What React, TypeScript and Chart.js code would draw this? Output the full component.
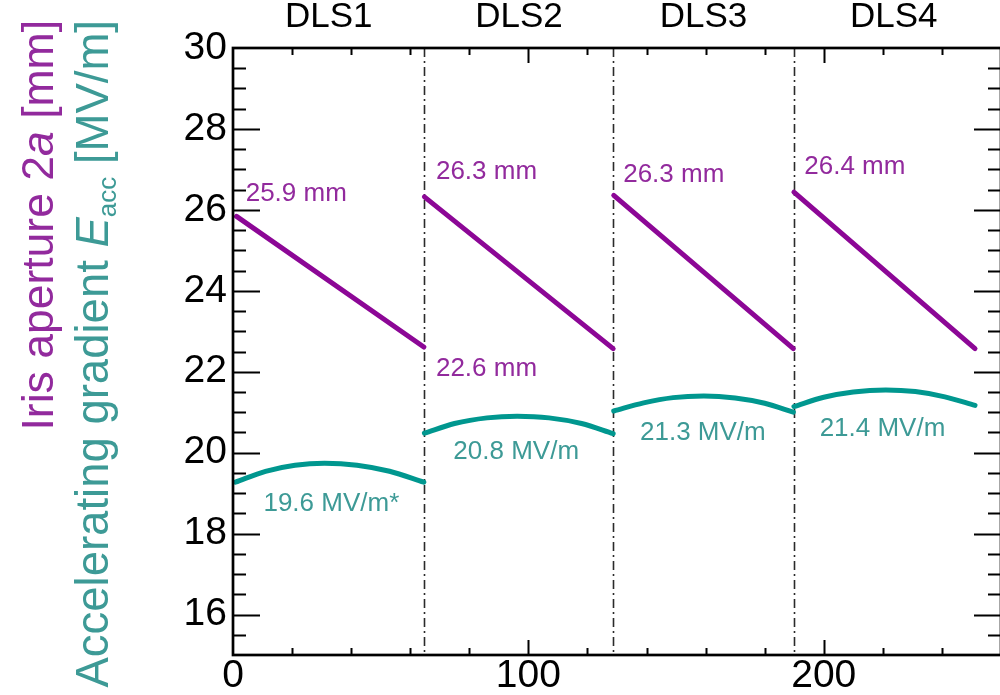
import React, { useEffect, useRef } from 'react';
import { Chart, registerables } from 'chart.js';

Chart.register(...registerables);

// ---------- data ----------
const sectionNames = ['DLS1', 'DLS2', 'DLS3', 'DLS4'];
const sectionLabelX = [32.4, 96.8, 159.3, 223.7];
const sectionDividers = [64.7, 128.8, 189.8];

// Iris aperture 2a [mm] : straight taper in every section (x, value)
const irisDLS1 = [[1.2, 25.84], [64.6, 22.61]];
const irisDLS2 = [[64.8, 26.32], [128.7, 22.57]];
const irisDLS3 = [[128.9, 26.36], [189.7, 22.57]];
const irisDLS4 = [[189.9, 26.44], [251.2, 22.57]];

// Accelerating gradient Eacc [MV/m] (x, value)
const gradDLS1 = [[0.8, 19.27], [11, 19.54], [21, 19.69], [31, 19.74], [42, 19.69], [53, 19.54], [64.6, 19.27]];
const gradDLS2 = [[64.8, 20.48], [75, 20.72], [86, 20.86], [96.2, 20.9], [107, 20.86], [118, 20.72], [128.7, 20.47]];
const gradDLS3 = [[128.9, 21.03], [139, 21.23], [149, 21.36], [159.4, 21.4], [170, 21.35], [180, 21.22], [189.7, 21.0]];
const gradDLS4 = [[189.9, 21.14], [200, 21.37], [210, 21.5], [221, 21.55], [231, 21.51], [241, 21.38], [251.2, 21.17]];

const irisLabels = ['25.9 mm', '26.3 mm', '22.6 mm', '26.3 mm', '26.4 mm'];
const irisLabelX = [4.3, 68.7, 68.7, 132.1, 193.4];
const irisLabelY = [26.23, 26.76, 21.9, 26.68, 26.88];

const gradLabels = ['19.6 MV/m*', '20.8 MV/m', '21.3 MV/m', '21.4 MV/m'];
const gradLabelX = [10.3, 74.6, 137.8, 198.6];
const gradLabelY = [18.57, 19.84, 20.31, 20.4];

const xTickValues = [0, 100, 200];
const yTickValues = [16, 18, 20, 22, 24, 26, 28, 30];

// ---------- styles ----------
const FONT = '"Liberation Sans", Arial, Helvetica, sans-serif';
const PURPLE = '#8c0796';
const PURPLE_TEXT = '#922a9d';
const TEAL = '#00978f';
const TEAL_TEXT = '#3d9a96';

const toXY = (arr: number[][]) => arr.map(([x, y]) => ({ x, y }));

type Seg = { t: string; size: number; italic?: boolean; shift?: number };

function drawVerticalRich(ctx: CanvasRenderingContext2D, segs: Seg[], baseX: number, endY: number, color: string) {
  ctx.save();
  let total = 0;
  const widths: number[] = [];
  for (const s of segs) {
    ctx.font = `${s.italic ? 'italic ' : ''}${s.size}px ${FONT}`;
    const w = ctx.measureText(s.t).width;
    widths.push(w);
    total += w;
  }
  ctx.translate(baseX, endY + total);
  ctx.rotate(-Math.PI / 2);
  ctx.fillStyle = color;
  ctx.textBaseline = 'alphabetic';
  ctx.textAlign = 'left';
  let cx = 0;
  segs.forEach((s, i) => {
    ctx.font = `${s.italic ? 'italic ' : ''}${s.size}px ${FONT}`;
    ctx.fillText(s.t, cx, s.shift || 0);
    cx += widths[i];
  });
  ctx.restore();
}

const decorPlugin = {
  id: 'decor',
  beforeDatasetsDraw(chart: any) {
    const { ctx, chartArea: a, scales } = chart;
    const x = scales.x;
    ctx.save();
    ctx.strokeStyle = '#2a2a2a';
    ctx.lineWidth = 1.6;
    ctx.setLineDash([9, 4, 2, 4]);
    for (const b of sectionDividers) {
      const px = Math.round(x.getPixelForValue(b)) + 0.5;
      ctx.beginPath();
      ctx.moveTo(px, a.top);
      ctx.lineTo(px, a.bottom);
      ctx.stroke();
    }
    ctx.restore();
  },
  afterDatasetsDraw(chart: any) {
    const { ctx, chartArea: a, scales } = chart;
    const x = scales.x;
    const y = scales.y;
    ctx.save();
    // inward ticks
    ctx.strokeStyle = '#000';
    ctx.lineWidth = 2;
    ctx.beginPath();
    for (let i = 31; i < 60; i++) {
      const v = i / 2;
      const py = Math.round(y.getPixelForValue(v)) + 0.5;
      const len = i % 4 === 0 ? 27 : 13;
      ctx.moveTo(a.left, py);
      ctx.lineTo(a.left + len, py);
      ctx.moveTo(a.right, py);
      ctx.lineTo(a.right - len, py);
    }
    for (let v = 20; v < 260; v += 20) {
      const px = Math.round(x.getPixelForValue(v)) + 0.5;
      const len = v % 100 === 0 ? 15 : 7;
      ctx.moveTo(px, a.bottom);
      ctx.lineTo(px, a.bottom - len);
      ctx.moveTo(px, a.top);
      ctx.lineTo(px, a.top + len);
    }
    ctx.stroke();
    // frame
    ctx.lineWidth = 2.7;
    ctx.strokeRect(a.left, a.top, a.right - a.left, a.bottom - a.top);

    // section names on top
    ctx.fillStyle = '#000';
    ctx.font = `35px ${FONT}`;
    ctx.textAlign = 'center';
    ctx.textBaseline = 'alphabetic';
    sectionNames.forEach((n, i) => {
      ctx.fillText(n, x.getPixelForValue(sectionLabelX[i]), 27);
    });

    // annotations
    ctx.textAlign = 'left';
    ctx.font = `26px ${FONT}`;
    ctx.fillStyle = PURPLE_TEXT;
    irisLabels.forEach((t, i) => {
      ctx.fillText(t, x.getPixelForValue(irisLabelX[i]), y.getPixelForValue(irisLabelY[i]));
    });
    ctx.fillStyle = TEAL_TEXT;
    gradLabels.forEach((t, i) => {
      ctx.fillText(t, x.getPixelForValue(gradLabelX[i]), y.getPixelForValue(gradLabelY[i]));
    });
    ctx.restore();

    // axis titles
    drawVerticalRich(ctx, [
      { t: 'Iris aperture 2', size: 44.5 },
      { t: 'a', size: 44.5, italic: true },
      { t: ' [mm]', size: 44.5 },
    ], 53, 20, PURPLE_TEXT);
    drawVerticalRich(ctx, [
      { t: 'Accelerating gradient ', size: 45.5 },
      { t: 'E', size: 45.5, italic: true },
      { t: 'acc', size: 26, shift: 8 },
      { t: ' [MV/m]', size: 45.5 },
    ], 108, 20, TEAL_TEXT);
  },
};

export default function App() {
  const ref = useRef<HTMLCanvasElement>(null);
  useEffect(() => {
    if (!ref.current) return;
    const irisStyle = {
      borderColor: PURPLE,
      borderWidth: 5,
      borderCapStyle: 'round' as const,
      pointRadius: 0,
      fill: false,
    };
    const gradStyle = {
      borderColor: TEAL,
      borderWidth: 5,
      borderCapStyle: 'round' as const,
      pointRadius: 0,
      fill: false,
      cubicInterpolationMode: 'monotone' as const,
    };
    const chart = new Chart(ref.current, {
      type: 'line',
      data: {
        datasets: [
          { ...irisStyle, label: 'Iris DLS1', data: toXY(irisDLS1) },
          { ...irisStyle, label: 'Iris DLS2', data: toXY(irisDLS2) },
          { ...irisStyle, label: 'Iris DLS3', data: toXY(irisDLS3) },
          { ...irisStyle, label: 'Iris DLS4', data: toXY(irisDLS4) },
          { ...gradStyle, label: 'Eacc DLS1', data: toXY(gradDLS1) },
          { ...gradStyle, label: 'Eacc DLS2', data: toXY(gradDLS2) },
          { ...gradStyle, label: 'Eacc DLS3', data: toXY(gradDLS3) },
          { ...gradStyle, label: 'Eacc DLS4', data: toXY(gradDLS4) },
        ],
      },
      options: {
        responsive: false,
        animation: false,
        devicePixelRatio: 1,
        layout: { padding: { top: 48, right: 9, left: 0, bottom: 0 } },
        plugins: { legend: { display: false }, tooltip: { enabled: false } },
        scales: {
          x: {
            type: 'linear',
            min: 0,
            max: 260,
            position: 'bottom',
            afterBuildTicks: (s: any) => {
              s.ticks = xTickValues.map((v) => ({ value: v }));
            },
            afterFit: (s: any) => {
              s.height = 65;
            },
            grid: { display: false, drawTicks: false },
            border: { display: false },
            ticks: {
              color: '#000',
              font: { family: FONT, size: 39, lineHeight: 1 },
              padding: 2,
              maxRotation: 0,
              autoSkip: false,
            },
          },
          y: {
            type: 'linear',
            min: 15,
            max: 30,
            afterBuildTicks: (s: any) => {
              s.ticks = yTickValues.map((v) => ({ value: v }));
            },
            afterFit: (s: any) => {
              s.width = 233;
            },
            grid: { display: false, drawTicks: false },
            border: { display: false },
            ticks: {
              color: '#000',
              font: { family: FONT, size: 39 },
              padding: 6,
              autoSkip: false,
            },
          },
        },
      },
      plugins: [decorPlugin],
    });
    return () => chart.destroy();
  }, []);

  return (
    <div
      style={{
        position: 'fixed',
        left: 0,
        top: 0,
        width: 1000,
        height: 695,
        overflow: 'hidden',
        background: '#fff',
      }}
    >
      <canvas ref={ref} width={1010} height={720} style={{ display: 'block' }} />
    </div>
  );
}
